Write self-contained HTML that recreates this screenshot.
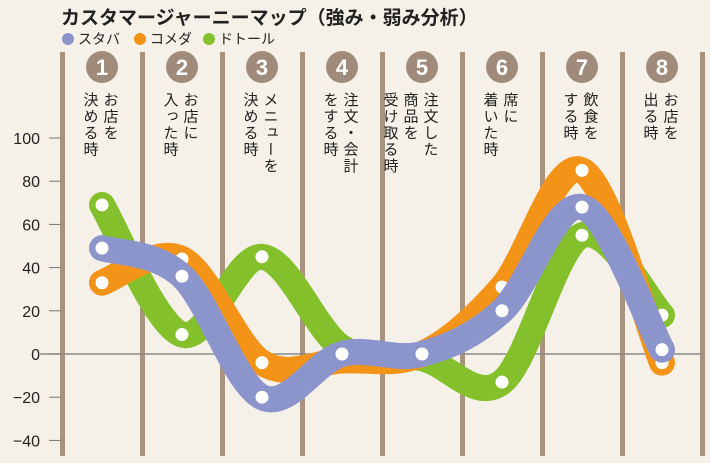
<!DOCTYPE html>
<html><head><meta charset="utf-8"><style>
body{margin:0;background:#f5f1e9;}
svg{display:block;font-family:"Liberation Sans","Noto Sans CJK JP",sans-serif;}
</style></head><body>
<svg id="c" width="710" height="463" viewBox="0 0 710 463">
<rect width="710" height="463" fill="#f5f1e9"/>
<text x="61" y="24" font-size="19" font-weight="bold" fill="#222">カスタマージャーニーマップ（強み・弱み分析）</text>
<g>
<g><circle cx="68" cy="39" r="6" fill="#8c94cc"/><text x="78" y="44" font-size="14" fill="#222">スタバ</text></g>
<g><circle cx="140" cy="39" r="6" fill="#f39418"/><text x="150" y="44" font-size="14" fill="#222">コメダ</text></g>
<g><circle cx="209" cy="39" r="6" fill="#84c02c"/><text x="219" y="44" font-size="14" fill="#222">ドトール</text></g>
</g>
<g id="grid"></g><g id="axis"></g><g id="series"></g>
</svg>
<script>
const categories=["お店を決める時","お店に入った時","メニューを決める時","注文・会計をする時","注文した商品を受け取る時","席に着いた時","飲食をする時","お店を出る時"];
const catLines=[["お店を","決める時"],["お店に","入った時"],["メニューを","決める時"],["注文・会計","をする時"],["注文した","商品を","受け取る時"],["席に","着いた時"],["飲食を","する時"],["お店を","出る時"]];
const yTicks=[100,80,60,40,20,0,-20,-40];
const starbucks=[49,36,-20,0,0,20,68,2];
const komeda=[33,44,-4,-3,0,31,85,-4];
const doutor=[69,9,45,3,-2,-13,55,18];
const NS="http://www.w3.org/2000/svg";
const x=i=>102+i*80;
const y=v=>354-v*2.16;
function mk(tag,attrs,parent){const e=document.createElementNS(NS,tag);for(const k in attrs)e.setAttribute(k,attrs[k]);parent.appendChild(e);return e;}
const grid=document.getElementById('grid'),axis=document.getElementById('axis'),series=document.getElementById('series');
for(let i=0;i<=categories.length;i++){
  const l=mk('rect',{x:62+i*80-2,y:52,width:5,height:404,fill:'#a8937f'},grid);
  
  
}
categories.forEach((c,i)=>{
  const g=mk('g',{},grid);
  
  
  mk('circle',{cx:x(i),cy:67,r:16,fill:'#a08b7b'},g);
  const n=mk('text',{x:x(i),y:75,'font-size':22,'font-weight':'bold',fill:'#fff','text-anchor':'middle'},g);n.textContent=i+1;
  catLines[i].forEach((ln,j)=>{
    const t=mk('text',{x:x(i)+8-j*20,y:92,'font-size':15,fill:'#222',style:'writing-mode:vertical-rl;letter-spacing:1.5px'},g);
    t.textContent=ln;
  });
});
const zl=mk('line',{x1:40,x2:703,y1:y(0),y2:y(0),stroke:'#8a8a8a','stroke-width':1.5},axis);


yTicks.forEach(v=>{
  const g=mk('g',{},axis);
  
  
  mk('line',{x1:49,x2:61,y1:y(v),y2:y(v),stroke:'#777','stroke-width':1},g);
  const t=mk('text',{x:40,y:y(v)+6,'font-size':16,fill:'#222','text-anchor':'end'},g);t.textContent=v<0?'−'+(-v):v;
});
function path(vals){
  const p=vals.map((v,i)=>[x(i),y(v)]);let d='M'+p[0][0]+','+p[0][1];
  for(let i=0;i<p.length-1;i++){const p0=p[i-1]||p[i],p1=p[i],p2=p[i+1],p3=p[i+2]||p2;
    const c1=[p1[0]+(p2[0]-p0[0])/6,p1[1]+(p2[1]-p0[1])/6],c2=[p2[0]-(p3[0]-p1[0])/6,p2[1]-(p3[1]-p1[1])/6];
    d+=' C'+c1[0]+','+c1[1]+' '+c2[0]+','+c2[1]+' '+p2[0]+','+p2[1];}
  return d;
}
[['doutor',doutor,'#84c02c'],['komeda',komeda,'#f39418'],['starbucks',starbucks,'#8c94cc']].forEach(([nm,vals,col])=>{
  const g=mk('g',{},series);
  
  
  const l=mk('path',{d:path(vals),fill:'none',stroke:col,'stroke-width':26,'stroke-linecap':'round','stroke-linejoin':'round'},g);
  
  
  vals.forEach((v,i)=>{
    const c=mk('circle',{cx:x(i),cy:y(v),r:6.5,fill:'#fff'},g);
    
    
  });
});
</script>
</body></html>
